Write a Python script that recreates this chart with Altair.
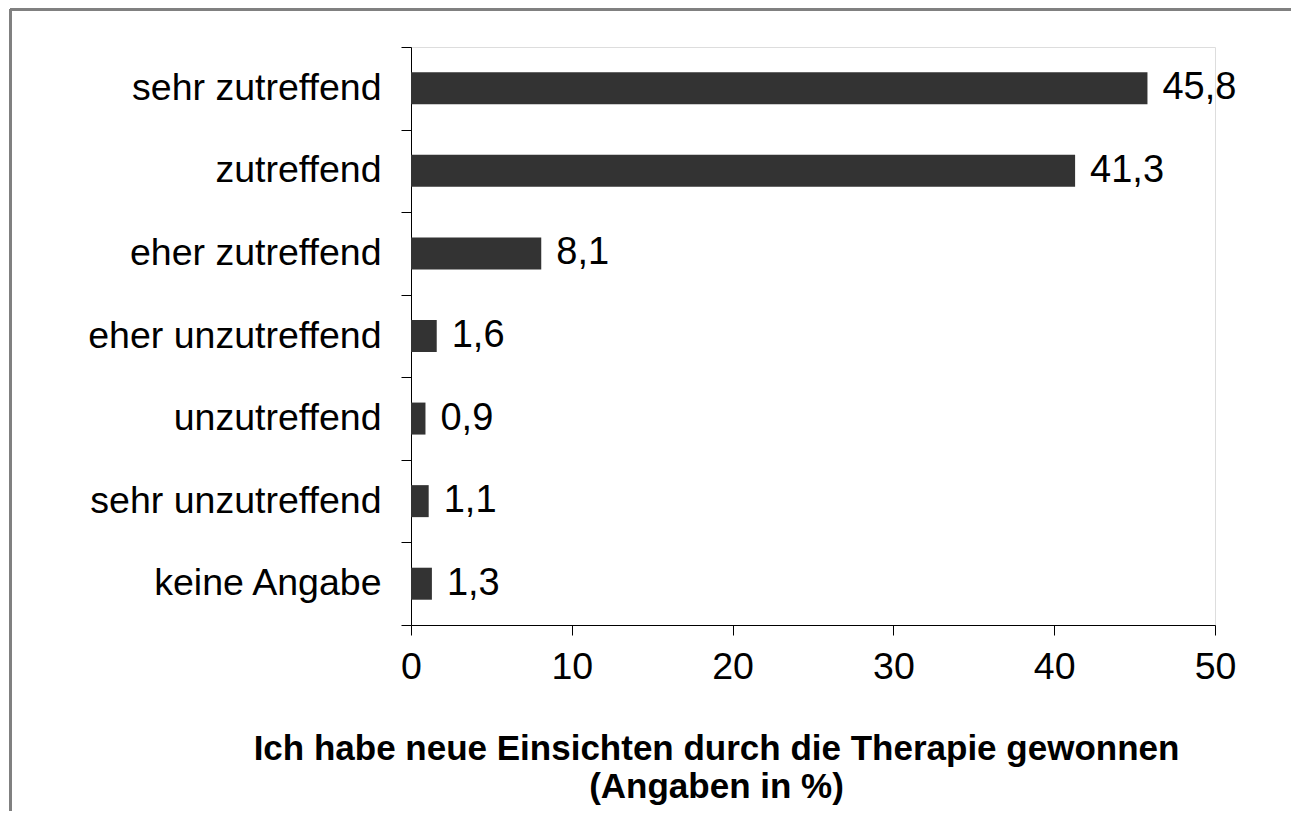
import altair as alt
import pandas as pd

categories = ["sehr zutreffend", "zutreffend", "eher zutreffend", "eher unzutreffend",
              "unzutreffend", "sehr unzutreffend", "keine Angabe"]
values = [45.8, 41.3, 8.1, 1.6, 0.9, 1.1, 1.3]
x_ticks = [0, 10, 20, 30, 40, 50]
title_lines = ["Ich habe neue Einsichten durch die Therapie gewonnen", "(Angaben in %)"]

df = pd.DataFrame({"cat": categories, "val": values})

FONT = "Liberation Sans"
W, H = 804, 578

y_enc = alt.Y("cat:N", sort=categories,
              scale=alt.Scale(paddingInner=0, paddingOuter=0),
              axis=alt.Axis(title=None, labelFont=FONT, labelFontSize=37.5, labelColor="black",
                            labelPadding=20, tickBand="extent", tickSize=10, tickColor="black",
                            domainColor="black", tickWidth=1, domainWidth=1, labelLimit=600))

x_enc = alt.X("val:Q", scale=alt.Scale(domain=[0, 50], nice=False),
              axis=alt.Axis(values=x_ticks, title=title_lines, labelFont=FONT, labelFontSize=37.5,
                            labelColor="black", labelPadding=13, tickSize=10, tickColor="black",
                            labelFlush=False, labelOverlap=False,
                            domainColor="black", grid=False, titleFont=FONT, titleFontSize=35,
                            titleFontWeight="bold", titleColor="black", titleX=305, titleY=106,
                            titleAlign="center", titleBaseline="top", titleLineHeight=38))

bars = alt.Chart(df).mark_bar(color="#333333", height=32).encode(x=x_enc, y=y_enc)

labels = alt.Chart(df).transform_calculate(
    lab="replace(format(datum.val, '.1f'), '.', ',')"
).mark_text(align="left", baseline="middle", dx=15, font=FONT, fontSize=38, color="black").encode(
    x="val:Q", y=alt.Y("cat:N", sort=categories), text="lab:N")

top_border = alt.Chart(df).mark_rule(color="#808080", strokeWidth=3).encode(
    x=alt.value(-401), x2=alt.value(900), y=alt.value(-38))
left_border = alt.Chart(df).mark_rule(color="#808080", strokeWidth=3).encode(
    x=alt.value(-400.5), y=alt.value(-38), y2=alt.value(800))

chart = alt.layer(bars, labels, top_border, left_border).properties(
    width=W, height=H,
    padding={"left": 403, "top": 39, "right": 76, "bottom": 186},
    autosize=alt.AutoSizeParams(type="none"),
).configure_view(stroke=None).configure(background="white")

chart.save("out.html", embed_options={"renderer": "svg", "actions": False})
